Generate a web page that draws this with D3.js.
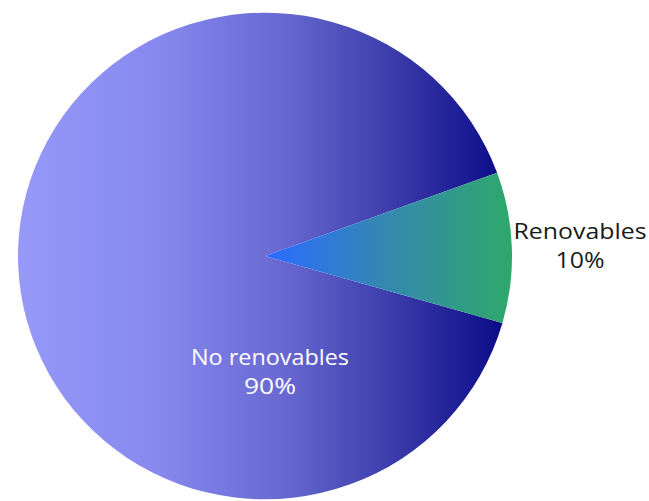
<!DOCTYPE html>
<html>
<head>
<meta charset="utf-8">
<script src="https://cdn.jsdelivr.net/npm/d3@7"></script>
<style>
  body { margin: 0; background: #ffffff; }
  svg { display: block; }
  .label { font-family: "Open Sans", sans-serif; font-size: 21px; text-anchor: middle; }
</style>
</head>
<body>
<div id="chart"></div>
<script>
// --------------------------------------------------
// Data
// --------------------------------------------------
const categories = ["No renovables", "Renovables"];
const values = [90, 10];
const percentLabels = ["90%", "10%"];

// --------------------------------------------------
// Size
// --------------------------------------------------
const width = 649;
const height = 501;
const cx = 265;
const cy = 256;
const radius = 247;

const svg = d3.select("#chart")
  .append("svg")
  .attr("width", width)
  .attr("height", height);

// gradients (coordinates are local to the pie group)
const defs = svg.append("defs");

const mainGrad = defs.append("linearGradient")
  .attr("id", "grad-main")
  .attr("gradientUnits", "userSpaceOnUse")
  .attr("x1", -radius).attr("x2", radius - 10)
  .attr("y1", 0).attr("y2", 0);
[["0%", "#9699f8"], ["30%", "#8688ee"], ["55%", "#6868d0"], ["78%", "#3a3aaa"], ["100%", "#0c0c88"]]
  .forEach(s => mainGrad.append("stop").attr("offset", s[0]).attr("stop-color", s[1]));

const greenGrad = defs.append("linearGradient")
  .attr("id", "grad-green")
  .attr("gradientUnits", "userSpaceOnUse")
  .attr("x1", 5).attr("x2", radius)
  .attr("y1", 0).attr("y2", 0);
[["0%", "#2a6cff"], ["45%", "#3586b4"], ["100%", "#2ea86a"]]
  .forEach(s => greenGrad.append("stop").attr("offset", s[0]).attr("stop-color", s[1]));

const fills = ["url(#grad-main)", "url(#grad-green)"];

// --------------------------------------------------
// Pie
// --------------------------------------------------
const startDeg = 106;
const pie = d3.pie()
  .sort(null)
  .startAngle(startDeg * Math.PI / 180)
  .endAngle((startDeg + 360) * Math.PI / 180);

const arc = d3.arc().innerRadius(0).outerRadius(radius);

const arcs = pie(values);

const g = svg.append("g")
  .attr("transform", `translate(${cx}, ${cy}) scale(1, 0.985)`);

g.selectAll("path")
  .data(arcs)
  .enter()
  .append("path")
  .attr("d", arc)
  .attr("fill", (d, i) => fills[i]);

// --------------------------------------------------
// Labels
// --------------------------------------------------
const labelPos = [
  { x: 270, y: 365, color: "#ffffff", w1: 158, w2: 52 },
  { x: 580, y: 239, color: "#1a1a1a", w1: 133, w2: 49 }
];

categories.forEach((c, i) => {
  const p = labelPos[i];
  svg.append("text")
    .attr("class", "label")
    .attr("x", p.x).attr("y", p.y)
    .attr("fill", p.color)
    .attr("textLength", p.w1)
    .attr("lengthAdjust", "spacingAndGlyphs")
    .text(c);
  svg.append("text")
    .attr("class", "label")
    .attr("x", p.x).attr("y", p.y + 29)
    .attr("fill", p.color)
    .attr("textLength", p.w2)
    .attr("lengthAdjust", "spacingAndGlyphs")
    .text(percentLabels[i]);
});
</script>
</body>
</html>
